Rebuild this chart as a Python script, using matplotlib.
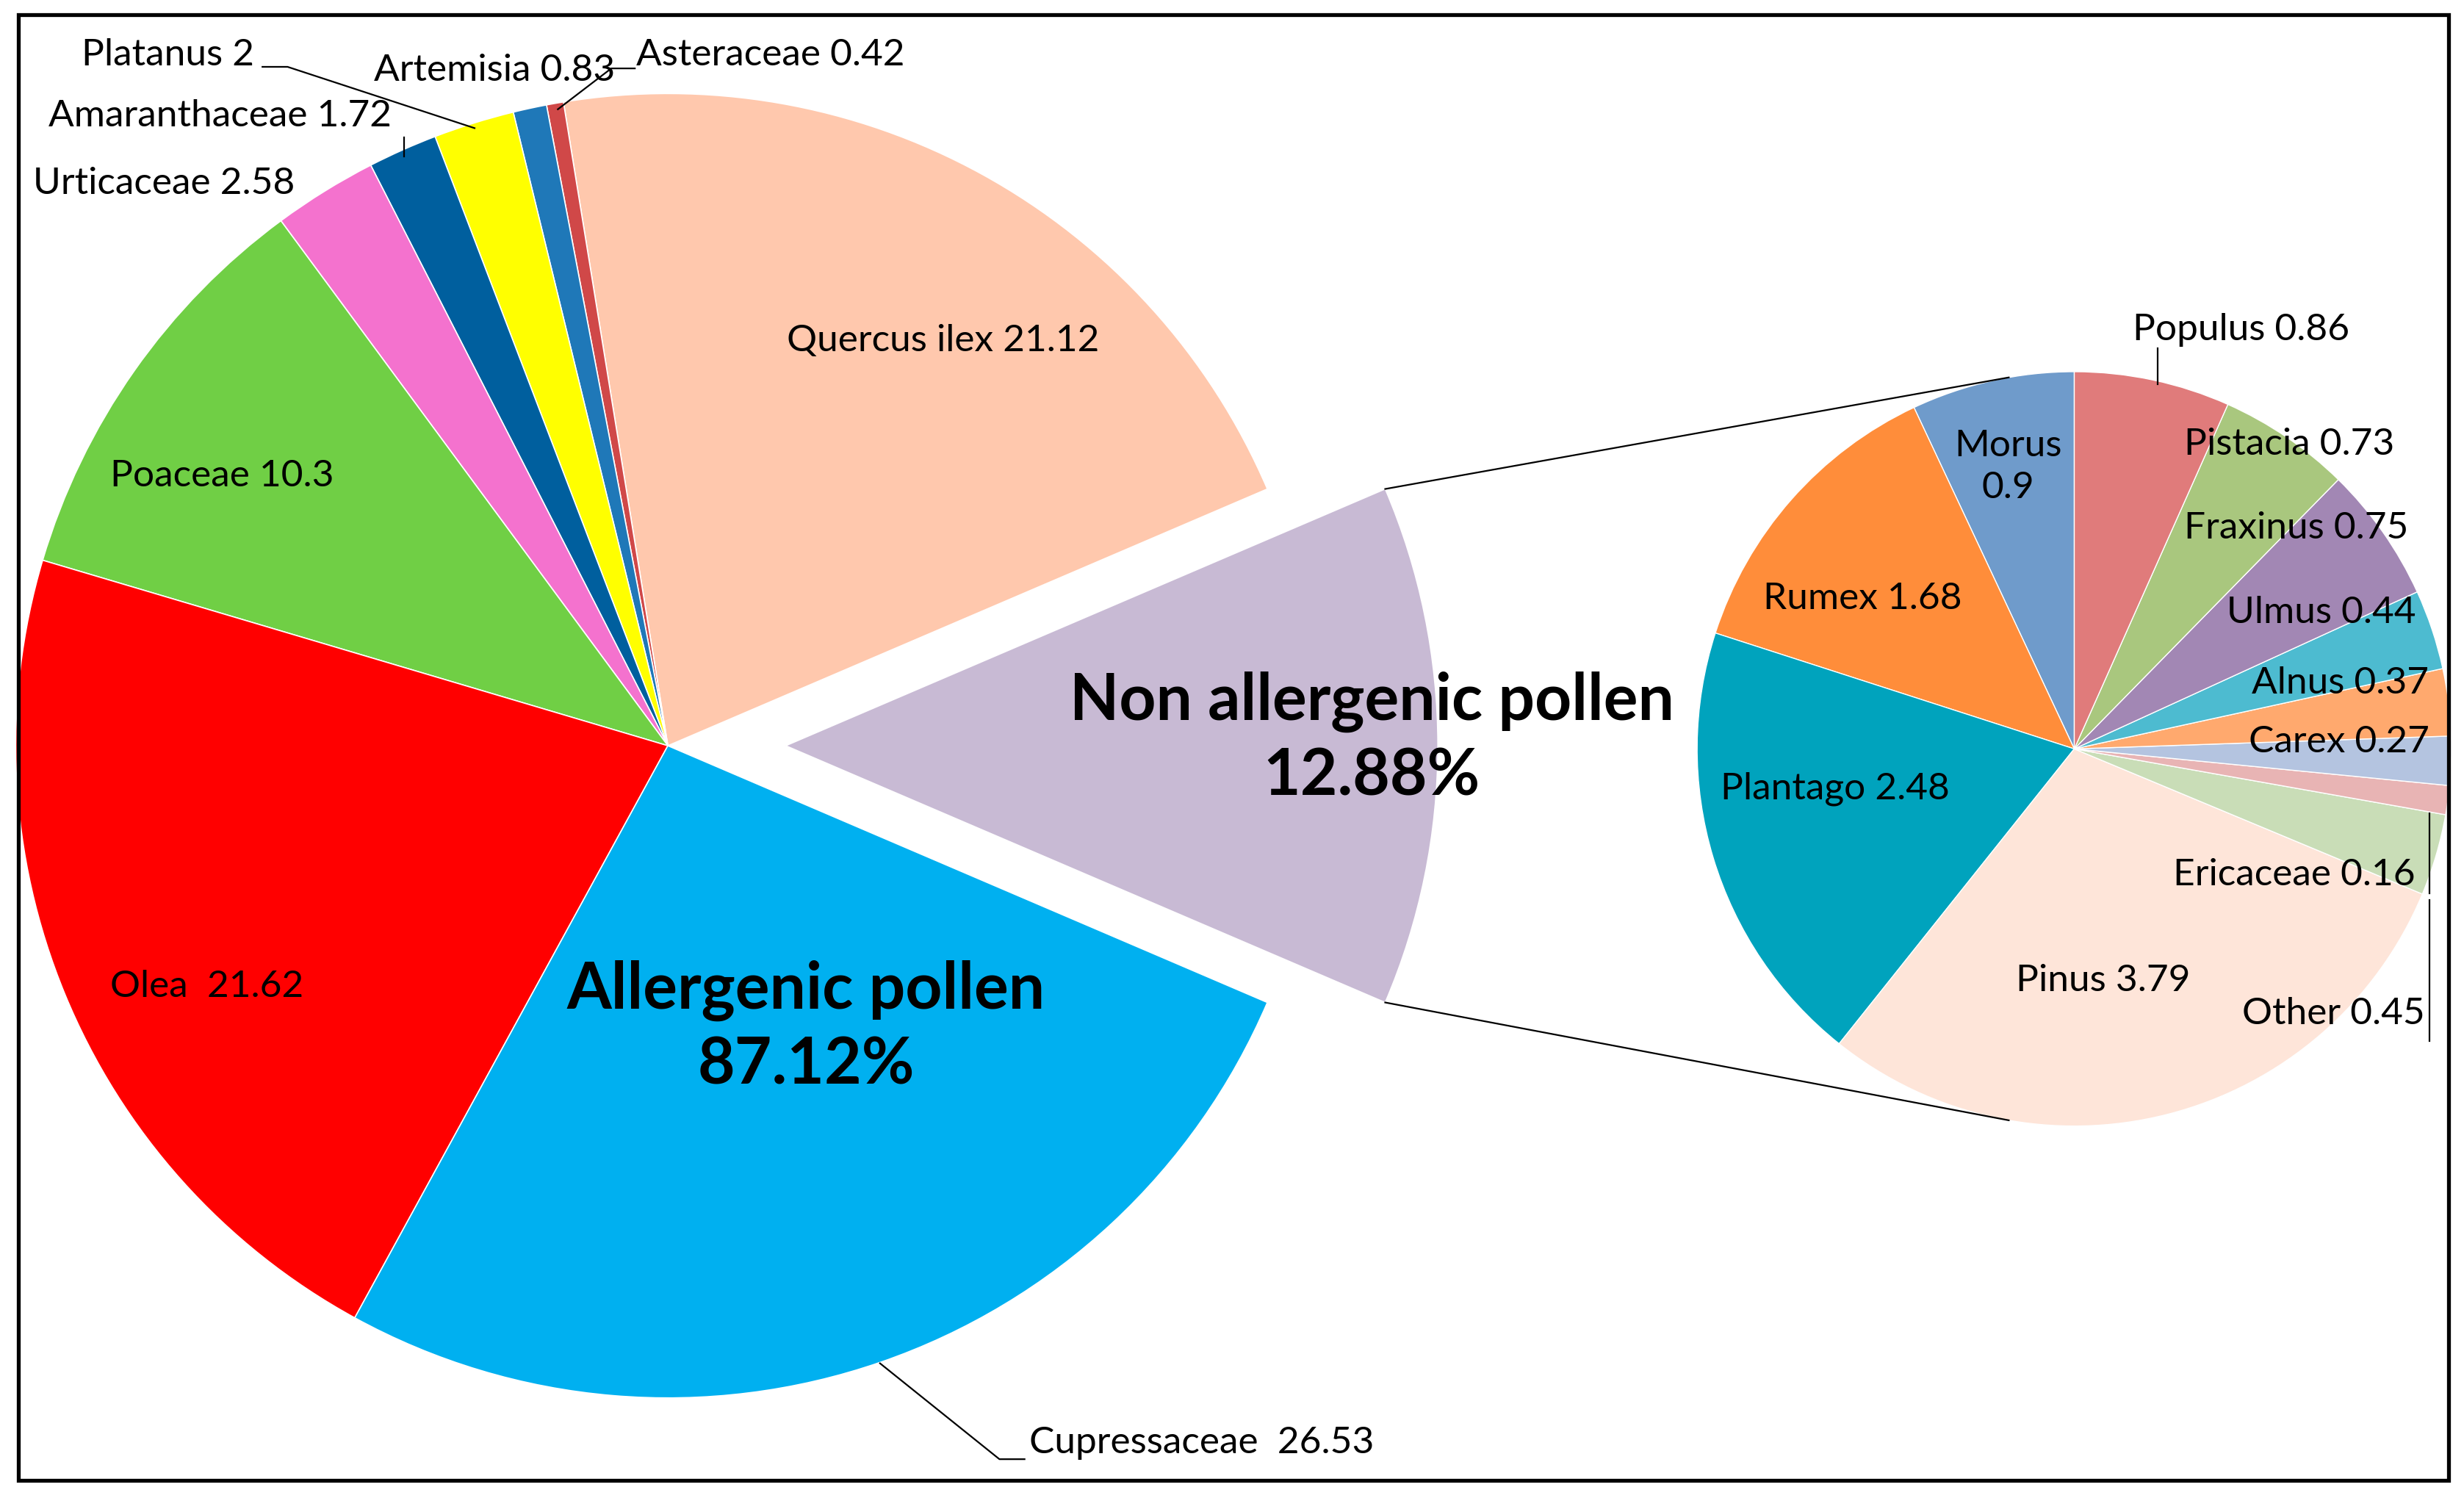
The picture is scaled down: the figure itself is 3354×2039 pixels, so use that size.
import numpy as np
import matplotlib
matplotlib.use('Agg')
import matplotlib.pyplot as plt
from matplotlib.patches import Rectangle

plt.rcParams['font.family'] = ['Lato', 'DejaVu Sans']

# main pie, counterclockwise starting with the exploded slice
main_names = ['Non allergenic pollen', 'Quercus ilex', 'Asteraceae', 'Artemisia', 'Platanus',
              'Amaranthaceae', 'Urticaceae', 'Poaceae', 'Olea', 'Cupressaceae']
main_values = [12.88, 21.12, 0.42, 0.83, 2, 1.72, 2.58, 10.3, 21.62, 26.53]
main_colors = ['#C8BAD4', '#FFC8AD', '#D04848', '#1F78B8', '#FFFF00',
               '#005F9E', '#F472CE', '#70CF45', '#FF0000', '#00B0F0']

# secondary pie (non allergenic), counterclockwise from 12 o'clock
sub_names = ['Morus', 'Rumex', 'Plantago', 'Pinus', 'Other', 'Ericaceae',
             'Carex', 'Alnus', 'Ulmus', 'Fraxinus', 'Pistacia', 'Populus']
sub_values = [0.9, 1.68, 2.48, 3.79, 0.45, 0.16, 0.27, 0.37, 0.44, 0.75, 0.73, 0.86]
sub_colors = ['#6F9BCB', '#FF8D3A', '#00A3BD', '#FEE5D9', '#C9DDB7', '#E8B4B4',
              '#B4C4E0', '#FFA96E', '#4DBBD0', '#A287B4', '#A9C77E', '#E07B7B']

allergenic_total = 87.12
non_allergenic_total = 12.88

W = 1568.0
H = W * 2040 / 3354


def Y(y):
    # y measured from the top of the picture
    return H - y


fig = plt.figure(figsize=(33.54, 20.40), dpi=100)
ax = fig.add_axes([0, 0, 1, 1])

main_c = (425, Y(475))
main_r = 415
sub_c = (1320, Y(477))
sub_r = 240

# pie explode offsets are in data units here
explode = [75] + [0] * (len(main_values) - 1)
start = -main_values[0] / sum(main_values) * 360 / 2
wm, _ = ax.pie(main_values, colors=main_colors, explode=explode, startangle=start,
               center=main_c, radius=main_r, frame=True,
               wedgeprops=dict(edgecolor='white', linewidth=1.2))
ws, _ = ax.pie(sub_values, colors=sub_colors, startangle=90,
               center=sub_c, radius=sub_r, frame=True,
               wedgeprops=dict(edgecolor='white', linewidth=1.0))

# connector lines between exploded slice and secondary pie
w0 = wm[0]
cx, cy = w0.center
for ang, sang in [(w0.theta2, 100), (w0.theta1, 260)]:
    x0 = cx + main_r * np.cos(np.radians(ang))
    y0 = cy + main_r * np.sin(np.radians(ang))
    x1 = sub_c[0] + sub_r * np.cos(np.radians(sang))
    y1 = sub_c[1] + sub_r * np.sin(np.radians(sang))
    ax.plot([x0, x1], [y0, y1], color='black', lw=1.6, zorder=1)

fs = 37
sep = {'Olea': '  ', 'Cupressaceae': '  ', 'Morus': '\n'}


def lab(name, vals, names):
    v = vals[names.index(name)]
    return f"{name}{sep.get(name, ' ')}{v:g}"


# label positions (x, y from top, horizontal alignment)
main_pos = {
    'Quercus ilex': (600, 217, 'center'),
    'Asteraceae': (405, 35, 'left'),
    'Artemisia': (238, 45, 'left'),
    'Platanus': (52, 35, 'left'),
    'Amaranthaceae': (31, 74, 'left'),
    'Urticaceae': (21, 117, 'left'),
    'Poaceae': (70, 303, 'left'),
    'Olea': (70, 628, 'left'),
    'Cupressaceae': (655, 918, 'left'),
}
for name, (x, y, ha) in main_pos.items():
    ax.text(x, Y(y), lab(name, main_values, main_names), fontsize=fs,
            ha=ha, va='center', zorder=5)

sub_pos = {
    'Populus': (1357, 210, 'left'),
    'Morus': (1278, 297, 'center'),
    'Pistacia': (1390, 283, 'left'),
    'Fraxinus': (1390, 336, 'left'),
    'Ulmus': (1417, 390, 'left'),
    'Alnus': (1433, 435, 'left'),
    'Carex': (1431, 472, 'left'),
    'Rumex': (1122, 381, 'left'),
    'Plantago': (1095, 502, 'left'),
    'Pinus': (1283, 624, 'left'),
    'Ericaceae': (1383, 557, 'left'),
    'Other': (1427, 645, 'left'),
}
for name, (x, y, ha) in sub_pos.items():
    ax.text(x, Y(y), lab(name, sub_values, sub_names), fontsize=fs,
            ha=ha, va='center', zorder=5, linespacing=1.3)

ax.text(513, Y(654), f"Allergenic pollen\n{allergenic_total}%", fontsize=63,
        fontweight='bold', ha='center', va='center', linespacing=1.3, zorder=5)
ax.text(873, Y(470), f"Non allergenic pollen\n{non_allergenic_total}%", fontsize=63,
        fontweight='bold', ha='center', va='center', linespacing=1.3, zorder=5)

# leader lines
leaders = [
    [(167, 43), (183, 43), (302, 82)],
    [(404, 44), (389, 44), (355, 70)],
    [(257, 88), (257, 100)],
    [(560, 868), (636, 929), (652, 929)],
    [(1373, 222), (1373, 245)],
    [(1546, 518), (1546, 569)],
    [(1546, 573), (1546, 663)],
]
for pts in leaders:
    xs = [p[0] for p in pts]
    ys = [Y(p[1]) for p in pts]
    ax.plot(xs, ys, color='black', lw=1.6, zorder=4)

ax.add_patch(Rectangle((11.7, Y(942.5)), 1558 - 11.7, 942.5 - 10, fill=False,
                       edgecolor='black', lw=3.8, zorder=6))

ax.set_xlim(0, W)
ax.set_ylim(0, H)
ax.set_aspect('auto')
ax.axis('off')

fig.savefig('out.png', dpi=100, facecolor='white')
